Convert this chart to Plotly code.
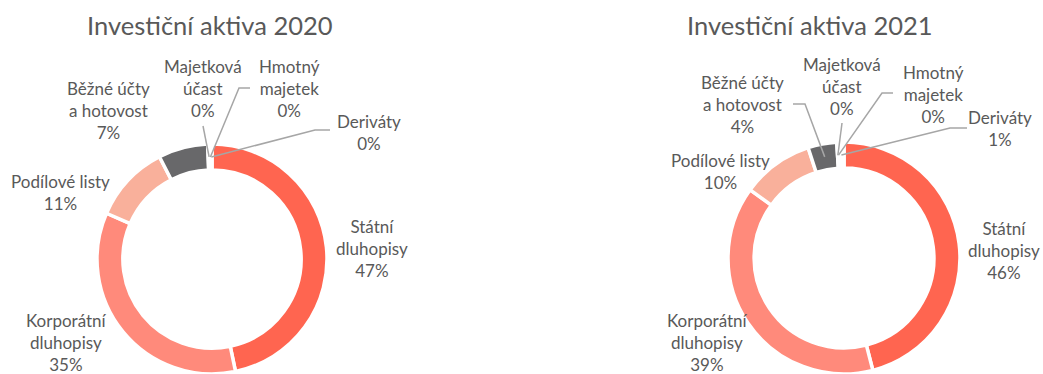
import math
import plotly.graph_objects as go

W, H = 1043, 374

categories = ["Státní<br>dluhopisy", "Korporátní<br>dluhopisy", "Podílové listy",
              "Běžné účty<br>a hotovost", "Majetková<br>účast", "Hmotný<br>majetek", "Deriváty"]
values_2020 = [47, 35, 11, 7, 0.3, 0.1, 0.2]
values_2021 = [46, 39, 10, 4, 0.1, 0.1, 0.8]
titles = ["Investiční aktiva 2020", "Investiční aktiva 2021"]

colors = ["#FF6550", "#FF8A7B", "#F9B09B", "#68686A", "#FFFFFF", "#FFFFFF", "#FFFFFF"]
HOLE = 0.775

# layout: pie domains in pixels (x0, x1, y0, y1) measured from top-left
charts = [
    dict(values=values_2020, title=titles[0], dom=(97, 327, 144, 374), title_pos=(210, 25),
         labels={  # category index -> (label center x, center y, leader elbow points or None)
             0: (372, 248, None),
             1: (66, 342, None),
             2: (60, 193, None),
             3: (108, 110, None),
             4: (203, 88, [(203, 126)]),
             5: (289, 88, [(250, 88), (239, 88)]),
             6: (369, 132, [(330, 130), (315, 130)]),
         }),
    dict(values=values_2021, title=titles[1], dom=(728, 960, 142, 374), title_pos=(810, 25),
         labels={
             0: (1004, 250, None),
             1: (707, 342, None),
             2: (720, 171, None),
             3: (742, 104, [(793, 104), (805, 104)]),
             4: (842, 86, [(842, 123)]),
             5: (933, 94, [(893, 93), (882, 93)]),
             6: (1000, 128, [(967, 128), (950, 128)]),
         }),
]


def px(x):
    return x / W


def py(y):
    return 1 - y / H


fig = go.Figure()
annotations = []
shapes = []
font_family = "Lato, 'Open Sans', sans-serif"
text_color = "#595959"

for ch in charts:
    x0, x1, y0, y1 = ch["dom"]
    vals = ch["values"]
    fig.add_trace(go.Pie(
        labels=categories, values=vals, sort=False, direction="clockwise", rotation=0,
        hole=HOLE, textinfo="none", hoverinfo="label+percent",
        marker=dict(colors=colors, line=dict(color="white", width=3.5)),
        domain=dict(x=[px(x0), px(x1)], y=[py(y1), py(y0)]),
        showlegend=False,
    ))
    # geometry from domain
    cx, cy = (x0 + x1) / 2, (y0 + y1) / 2
    r_out = min(x1 - x0, y1 - y0) / 2
    r_mid = r_out * (1 + HOLE) / 2
    total = sum(vals)
    cum = 0
    for i, v in enumerate(vals):
        mid = (cum + v / 2) / total
        cum += v
        pct = round(v / total * 100)
        lx, ly, elbow = ch["labels"][i]
        annotations.append(dict(
            x=px(lx), y=py(ly), xref="paper", yref="paper", showarrow=False,
            text=f"{categories[i]}<br>{pct}%", align="center",
            xanchor="center", yanchor="middle",
            font=dict(family=font_family, size=17, color=text_color),
        ))
        if elbow:
            ang = 2 * math.pi * mid
            ex = cx + r_mid * math.sin(ang)
            ey = cy - r_mid * math.cos(ang)
            pts = list(elbow) + [(ex, ey)]
            path = "M " + " L ".join(f"{px(a):.5f},{py(b):.5f}" for a, b in pts)
            shapes.append(dict(type="path", path=path, xref="paper", yref="paper",
                               line=dict(color="#A6A6A6", width=1.5)))
    tx, ty = ch["title_pos"]
    annotations.append(dict(
        x=px(tx), y=py(ty), xref="paper", yref="paper", showarrow=False,
        text=ch["title"], xanchor="center", yanchor="middle",
        font=dict(family=font_family, size=25.5, color=text_color),
    ))

fig.update_layout(
    width=W, height=H, margin=dict(l=0, r=0, t=0, b=0),
    paper_bgcolor="white", plot_bgcolor="white",
    annotations=annotations, shapes=shapes,
)

fig.write_html("out.html")
